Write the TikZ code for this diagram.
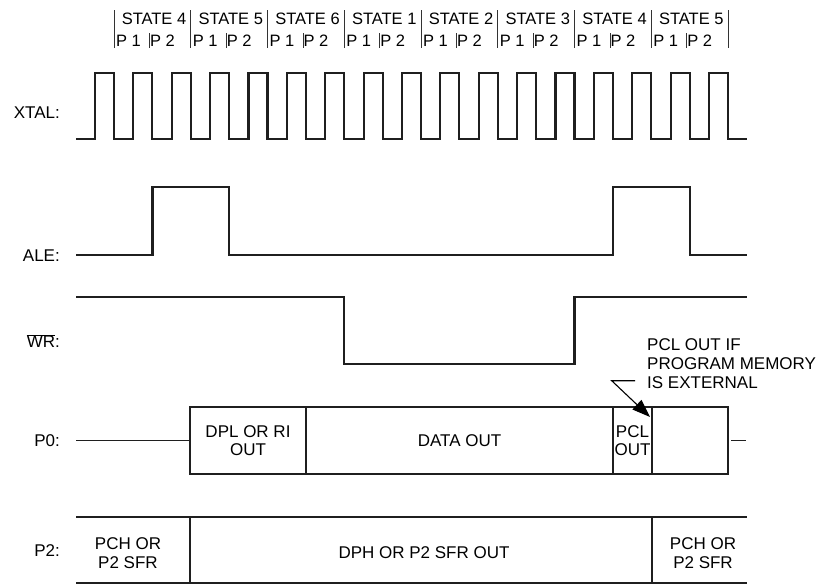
\documentclass[tikz,border=0pt]{standalone}
\usepackage{fontspec}
\setmainfont{Liberation Sans}
\usetikzlibrary{arrows.meta, positioning}
\tikzset{
	sig/.style={line width=2.2pt, draw=black!88, line join=miter},
	thinsig/.style={line width=1.3pt, draw=black!88},
	tick/.style={line width=1pt, draw=black!80},
	siglabel/.style={anchor=east, inner sep=0pt, font=\fontsize{17}{19}\selectfont},
	hdrtext/.style={inner sep=0pt, font=\fontsize{16.5}{19}\selectfont},
	busbox/.style={rectangle, draw=black!88, line width=2pt, minimum height=67pt,
		inner sep=0pt, outer sep=0pt, align=center, font=\fontsize{17}{18.5}\selectfont},
	bustext/.style={inner sep=0pt, align=center, font=\fontsize{17}{19}\selectfont},
	notearrow/.style={-{Triangle[length=18pt,width=13pt]}, line width=1.1pt},
}
\begin{document}
\begin{tikzpicture}[x=1pt,y=-1pt]
	\useasboundingbox (0,0) rectangle (821,584);
	% State / phase header
	\foreach \s [count=\i from 0] in {4,5,6,1,2,3,4,5} {
		\node[hdrtext] (st\i) at ({114+\i*76.75+40},18.5) {STATE \s};
		\node[hdrtext] (pa\i) at ({114+\i*76.75+14.5},41) {P 1};
		\node[hdrtext] (pb\i) at ({114+\i*76.75+48.5},41) {P 2};
		\draw[tick] ({114+\i*76.75+35.5},33) -- ++(0,15);
	}
	\foreach \i in {0,...,8} \draw[tick] ({114+\i*76.75},10) -- ++(0,38);
	% XTAL
	\node[siglabel] (xtal) at (60,113) {XTAL:};
	\draw[sig] (76,139) foreach \k in {0,...,16} {
		-- ({95+\k*38.375},139) -- ({95+\k*38.375},73)
		-- ({114+\k*38.375},73) -- ({114+\k*38.375},139)} -- (747,139);
	% ALE
	\node[siglabel] (ale) at (60,256) {ALE:};
	\draw[sig] (76,255) -- (152.4,255) -- (152.4,186.7) -- (229.1,186.7) -- (229.1,255)
		-- (612.9,255) -- (612.9,186.7) -- (689.6,186.7) -- (689.6,255) -- (747,255);
	% WR
	\node[siglabel] (wr) at (60,341) {$\overline{\mbox{WR}}$:};
	\draw[sig] (76,296.7) -- (344.3,296.7) -- (344.3,364.3) -- (574.5,364.3)
		-- (574.5,296.7) -- (747,296.7);
	% P0
	\node[siglabel] (pzero) at (60,441) {P0:};
	\node[busbox, minimum width=116pt] (dpl) at (248,440.8) {DPL OR RI\\OUT};
	\node[busbox, minimum width=307pt, right=0pt of dpl] (dout) {DATA OUT};
	\node[busbox, minimum width=39pt, right=0pt of dout] (pcl) {PCL\\OUT};
	\node[busbox, minimum width=76pt, right=0pt of pcl] (blank) {};
	\draw[thinsig] (76,440.8) -- (dpl.west);
	\draw[thinsig] ([xshift=3pt]blank.east) -- ++(15,0);
	\node[bustext, align=left, anchor=north west] (note) at (647,338.5)
		{PCL OUT IF\\PROGRAM MEMORY\\IS EXTERNAL};
	\coordinate (notetail) at (635,380.7);
	\coordinate (notebend) at (611.7,380.7);
	\coordinate (pcltip) at (650,417);
	\draw[notearrow] (notetail) -- (notebend) -- (pcltip);
	% P2
	\node[siglabel] (ptwo) at (60,551) {P2:};
	\draw[line width=2pt, draw=black!88] (76,516.7) -- (747,516.7);
	\draw[thinsig] (76,583) -- (747,583);
	\draw[thinsig] (190,516.7) -- (190,583);
	\draw[thinsig] (652,516.7) -- (652,583);
	\node[bustext] (pcha) at (128,553) {PCH OR\\P2 SFR};
	\node[bustext] (dph) at (424,553) {DPH OR P2 SFR OUT};
	\node[bustext] (pchb) at (703,553) {PCH OR\\P2 SFR};
\end{tikzpicture}
\end{document}
